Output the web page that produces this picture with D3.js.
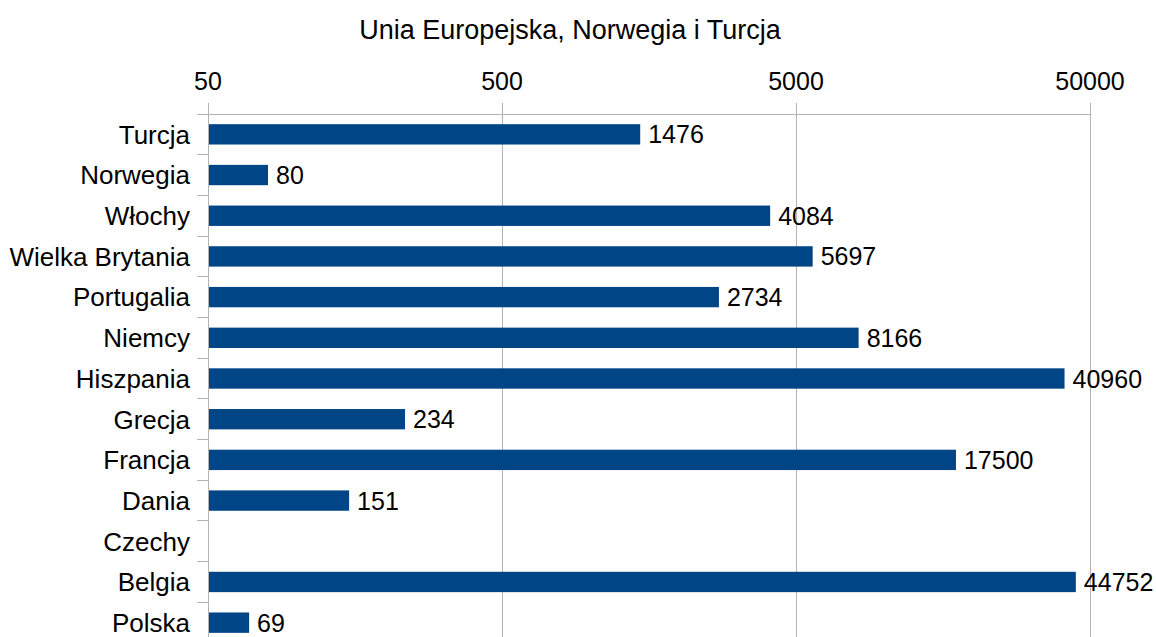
<!DOCTYPE html>
<html>
<head>
<meta charset="utf-8">
<script src="https://cdn.jsdelivr.net/npm/d3@7"></script>
<style>
  body { margin: 0; background: #fff; }
  text { font-family: "Liberation Sans", Arial, sans-serif; fill: #000; }
</style>
</head>
<body>
<div id="graphArea"></div>
<script>
// data
var countries = ["Turcja","Norwegia","Włochy","Wielka Brytania","Portugalia","Niemcy","Hiszpania","Grecja","Francja","Dania","Czechy","Belgia","Polska"]
var values = [1476, 80, 4084, 5697, 2734, 8166, 40960, 234, 17500, 151, null, 44752, 69]
var tickValues = [50, 500, 5000, 50000]
var title = "Unia Europejska, Norwegia i Turcja"

var width = 1156, height = 637
var margin = { top: 114, left: 208, right: 66 }
var plotH = 529

var svg = d3.select("#graphArea").append("svg")
	.attr("width", width)
	.attr("height", height)

var x = d3.scaleLog()
	.domain([50, 50000])
	.range([margin.left, width - margin.right])

var y = d3.scaleBand()
	.domain(countries)
	.range([margin.top, margin.top + plotH])
	.paddingInner(0.5)
	.paddingOuter(0.25)

var band = d3.scaleBand()
	.domain(countries)
	.range([margin.top, margin.top + plotH])

// title
svg.append("text")
	.attr("x", 570)
	.attr("y", 39)
	.attr("text-anchor", "middle")
	.style("font-size", "27px")
	.text(title)

// vertical grid lines
svg.selectAll(".grid")
	.data(tickValues)
	.enter()
	.append("line")
	.attr("class", "grid")
	.attr("x1", d => x(d)).attr("x2", d => x(d))
	.attr("y1", margin.top - 11).attr("y2", height)
	.attr("stroke", "#b3b3b3")
	.attr("stroke-width", 1)
	.attr("shape-rendering", "crispEdges")

// top line
svg.append("line")
	.attr("x1", margin.left - 11).attr("x2", x(50000))
	.attr("y1", margin.top).attr("y2", margin.top)
	.attr("stroke", "#b3b3b3")
	.attr("shape-rendering", "crispEdges")

// category ticks at band borders
var borders = countries.map(c => band(c)).concat([margin.top + plotH])
svg.selectAll(".ctick")
	.data(borders)
	.enter()
	.append("line")
	.attr("class", "ctick")
	.attr("x1", margin.left - 11).attr("x2", margin.left)
	.attr("y1", d => d).attr("y2", d => d)
	.attr("stroke", "#b3b3b3")
	.attr("shape-rendering", "crispEdges")

// tick labels
svg.selectAll(".xlabel")
	.data(tickValues)
	.enter()
	.append("text")
	.attr("class", "xlabel")
	.attr("x", d => x(d))
	.attr("y", 90)
	.attr("text-anchor", "middle")
	.style("font-size", "25px")
	.text(d => d)

// bars
var rows = countries.map((c, i) => ({ name: c, value: values[i] }))

svg.selectAll(".bar")
	.data(rows.filter(d => d.value != null))
	.enter()
	.append("rect")
	.attr("class", "bar")
	.attr("x", x(50))
	.attr("y", d => y(d.name))
	.attr("width", d => x(d.value) - x(50))
	.attr("height", y.bandwidth())
	.attr("fill", "#004586")

svg.selectAll(".val")
	.data(rows.filter(d => d.value != null))
	.enter()
	.append("text")
	.attr("class", "val")
	.attr("x", d => x(d.value) + 8)
	.attr("y", d => y(d.name) + y.bandwidth() / 2)
	.attr("dy", "0.36em")
	.style("font-size", "25px")
	.text(d => d.value)

// left axis line
svg.append("line")
	.attr("x1", margin.left).attr("x2", margin.left)
	.attr("y1", margin.top).attr("y2", height)
	.attr("stroke", "#b3b3b3")
	.attr("shape-rendering", "crispEdges")

// category labels
svg.selectAll(".ylabel")
	.data(countries)
	.enter()
	.append("text")
	.attr("class", "ylabel")
	.attr("x", 190)
	.attr("y", d => y(d) + y.bandwidth() / 2)
	.attr("dy", "0.36em")
	.attr("text-anchor", "end")
	.style("font-size", "26px")
	.text(d => d)
</script>
</body>
</html>
